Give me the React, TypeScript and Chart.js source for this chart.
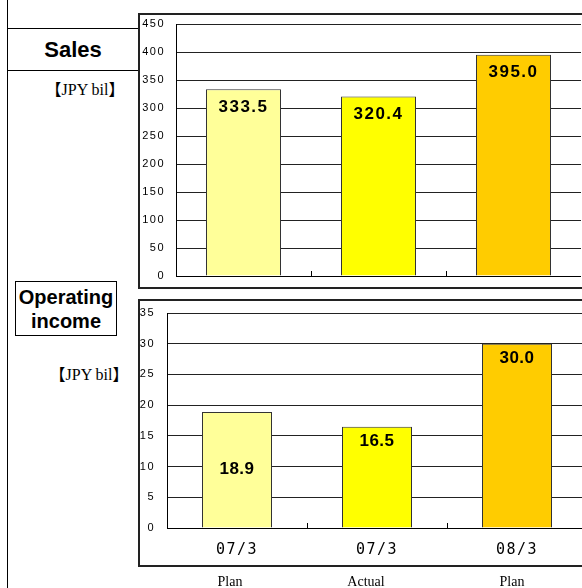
import React, { useEffect, useRef } from 'react';
import { Chart, registerables } from 'chart.js';

Chart.register(...registerables);

// ---- data ----
const categories = ['07/3', '07/3', '08/3'];
const subLabels = ['Plan', 'Actual', 'Plan'];
const salesValues = [333.5, 320.4, 395.0];
const incomeValues = [18.9, 16.5, 30.0];
const barColors = ['#FFFF99', '#FFFF00', '#FFCC00'];
const salesAxis = [0, 450, 50];
const incomeAxis = [0, 35, 5];
const salesLabelAnchor = ['top', 'top', 'top'];
const incomeLabelAnchor = ['center', 'top', 'top'];
const subLabelCenters = [230, 366, 512];

Chart.defaults.font.family = "'Liberation Sans', Arial, sans-serif";

function makeValueLabels(anchors: string[], font: string, spacing: string, offset: number) {
  return {
    id: 'valueLabels',
    afterDatasetsDraw(chart: any) {
      const ctx = chart.ctx;
      const meta = chart.getDatasetMeta(0);
      const data = chart.data.datasets[0].data as number[];
      ctx.save();
      ctx.font = font;
      (ctx as any).letterSpacing = spacing;
      ctx.fillStyle = '#000';
      ctx.textAlign = 'center';
      ctx.textBaseline = 'middle';
      meta.data.forEach((bar: any, i: number) => {
        const { x, y, base } = bar.getProps(['x', 'y', 'base'], true);
        const ty = anchors[i] === 'center' ? (y + base) / 2 : y + offset;
        ctx.fillText(Number(data[i]).toFixed(1), x, ty);
      });
      ctx.restore();
    },
  };
}

const boundaryTicks = {
  id: 'boundaryTicks',
  afterDatasetsDraw(chart: any) {
    const ctx = chart.ctx;
    const xs = chart.scales.x;
    const area = chart.chartArea;
    const n = chart.data.labels.length;
    ctx.save();
    ctx.strokeStyle = '#000';
    ctx.lineWidth = 1;
    ctx.beginPath();
    for (let i = 0; i < n - 1; i++) {
      const px = Math.round((xs.getPixelForValue(i) + xs.getPixelForValue(i + 1)) / 2) + 0.5;
      ctx.moveTo(px, area.bottom);
      ctx.lineTo(px, area.bottom - 5);
    }
    ctx.stroke();
    ctx.restore();
  },
};

function spacingPlugin(spacing: string) {
  return {
    id: 'spacing',
    beforeDraw(chart: any) {
      (chart.ctx as any).letterSpacing = spacing;
    },
    afterDraw(chart: any) {
      (chart.ctx as any).letterSpacing = '0px';
    },
  };
}

function buildConfig(
  values: number[],
  axis: number[],
  opts: {
    yWidth: number;
    xHeight: number;
    padTop: number;
    yPad: number;
    barFrac: number;
    showX: boolean;
    anchors: string[];
    labelFont: string;
    labelSpacing: string;
    labelOffset: number;
  }
): any {
  return {
    type: 'bar',
    data: {
      labels: categories,
      datasets: [
        {
          data: values,
          backgroundColor: barColors,
          borderColor: '#333',
          borderWidth: 1,
          barPercentage: 1,
          categoryPercentage: opts.barFrac,
        },
      ],
    },
    options: {
      animation: false,
      responsive: false,
      maintainAspectRatio: false,
      devicePixelRatio: 1,
      layout: { autoPadding: false, padding: { top: opts.padTop, left: 0, right: 0, bottom: 0 } },
      plugins: { legend: { display: false }, tooltip: { enabled: false } },
      scales: {
        x: {
          grid: { display: false, drawTicks: false },
          border: { display: true, color: '#000', width: 1 },
          ticks: {
            display: opts.showX,
            color: '#000',
            padding: 13,
            font: { family: "'DejaVu Sans Mono', monospace", size: 15 },
          },
          afterFit: (s: any) => {
            s.height = opts.xHeight;
            s.paddingLeft = 0;
            s.paddingRight = 0;
          },
        },
        y: {
          min: axis[0],
          max: axis[1],
          grid: { color: '#222', lineWidth: 1, drawTicks: false },
          border: { display: true, color: '#000', width: 1 },
          ticks: {
            stepSize: axis[2],
            padding: opts.yPad,
            color: '#000',
            font: { size: 11 },
          },
          afterFit: (s: any) => {
            s.width = opts.yWidth;
            s.paddingTop = 0;
            s.paddingBottom = 0;
          },
        },
      },
    },
    plugins: [
      spacingPlugin('1.5px'),
      boundaryTicks,
      makeValueLabels(opts.anchors, opts.labelFont, opts.labelSpacing, opts.labelOffset),
    ],
  };
}

function ChartCanvas(props: { config: any; left: number; top: number; width: number; height: number }) {
  const ref = useRef<HTMLCanvasElement | null>(null);
  useEffect(() => {
    if (!ref.current) return;
    const chart = new Chart(ref.current, props.config);
    return () => chart.destroy();
  }, []);
  return (
    <canvas
      ref={ref}
      width={props.width}
      height={props.height}
      style={{
        position: 'absolute',
        left: props.left,
        top: props.top,
        width: props.width,
        height: props.height,
      }}
    />
  );
}

const salesConfig = buildConfig(salesValues, salesAxis, {
  yWidth: 37,
  xHeight: 14,
  padTop: 10,
  yPad: 11,
  barFrac: 75 / 135,
  showX: false,
  anchors: salesLabelAnchor,
  labelFont: "bold 17px 'Liberation Sans', Arial, sans-serif",
  labelSpacing: '1.5px',
  labelOffset: 18,
});

const incomeConfig = buildConfig(incomeValues, incomeAxis, {
  yWidth: 28,
  xHeight: 38,
  padTop: 13,
  yPad: 12,
  barFrac: 0.5,
  showX: true,
  anchors: incomeLabelAnchor,
  labelFont: "bold 17px 'Liberation Sans', Arial, sans-serif",
  labelSpacing: '0.5px',
  labelOffset: 15,
});

const serif = "'Liberation Serif', 'Times New Roman', 'Noto Sans CJK JP', serif";
const sans = "'Liberation Sans', Arial, sans-serif";

export default function App() {
  return (
    <div
      style={{
        position: 'absolute',
        left: 0,
        top: 0,
        width: 582,
        height: 588,
        overflow: 'hidden',
        background: '#fff',
      }}
    >
      {/* left rule */}
      <div style={{ position: 'absolute', left: 7, top: 0, width: 1, height: 588, background: '#000' }} />

      {/* Sales title box */}
      <div
        style={{
          position: 'absolute',
          left: 7,
          top: 28,
          width: 132,
          height: 41,
          borderTop: '1px solid #000',
          borderBottom: '1px solid #000',
          display: 'flex',
          alignItems: 'center',
          justifyContent: 'center',
          font: `bold 22px ${sans}`,
          color: '#000',
        }}
      >
        Sales
      </div>
      <div
        style={{
          position: 'absolute',
          left: 35,
          top: 80,
          width: 100,
          textAlign: 'center',
          font: `16px ${serif}`,
          lineHeight: '20px',
          color: '#000',
        }}
      >
        【JPY bil】
      </div>

      {/* Operating income title box */}
      <div
        style={{
          position: 'absolute',
          left: 15,
          top: 281,
          width: 100,
          height: 53,
          border: '1px solid #000',
          display: 'flex',
          flexDirection: 'column',
          alignItems: 'center',
          justifyContent: 'center',
          font: `bold 20px ${sans}`,
          lineHeight: '24px',
          color: '#000',
        }}
      >
        <span>Operating</span>
        <span>income</span>
      </div>
      <div
        style={{
          position: 'absolute',
          left: 39,
          top: 365,
          width: 100,
          textAlign: 'center',
          font: `16px ${serif}`,
          lineHeight: '20px',
          color: '#000',
        }}
      >
        【JPY bil】
      </div>

      {/* charts */}
      <ChartCanvas config={salesConfig} left={139} top={14} width={442} height={276} />
      <ChartCanvas config={incomeConfig} left={139} top={300} width={448} height={266} />

      {/* chart frames */}
      <div
        style={{
          position: 'absolute',
          left: 138,
          top: 13,
          width: 460,
          height: 276,
          boxSizing: 'border-box',
          border: '2px solid #222',
          pointerEvents: 'none',
        }}
      />
      <div
        style={{
          position: 'absolute',
          left: 138,
          top: 299,
          width: 460,
          height: 268,
          boxSizing: 'border-box',
          border: '2px solid #222',
          pointerEvents: 'none',
        }}
      />

      {/* sub labels below the frame */}
      {subLabels.map((t, i) => (
        <div
          key={i}
          style={{
            position: 'absolute',
            left: subLabelCenters[i] - 50,
            top: 575,
            width: 100,
            textAlign: 'center',
            font: `14px ${serif}`,
            lineHeight: '14px',
            color: '#000',
          }}
        >
          {t}
        </div>
      ))}
    </div>
  );
}
